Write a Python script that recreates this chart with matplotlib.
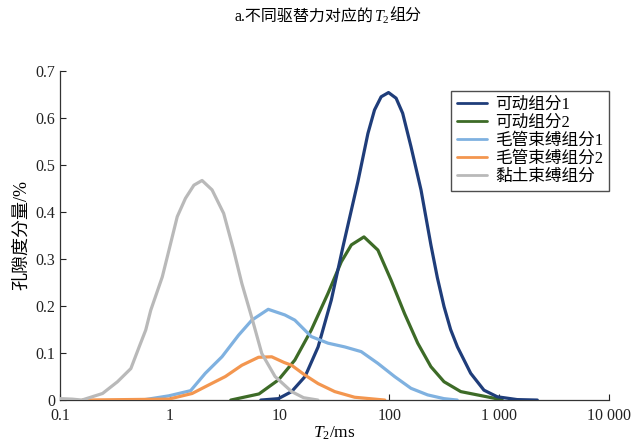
import numpy as np
import matplotlib
matplotlib.use("Agg")
import matplotlib.pyplot as plt

plt.rcParams['font.family'] = ['Liberation Serif', 'Noto Sans CJK SC']
plt.rcParams['mathtext.fontset'] = 'custom'
plt.rcParams['mathtext.rm'] = 'Liberation Serif'
plt.rcParams['mathtext.it'] = 'Liberation Serif:italic'

# T2 (ms) sample points and porosity component (%)
t_mov1 = [6.76, 9.77, 12.9, 17.1, 22.5, 29.7, 37.9, 51.9, 64.0, 73.5, 84.5, 98.6, 115.6, 132.7, 158, 195, 240, 275, 316, 363, 419, 553, 731, 966, 1466, 2239]
v_mov1 = [0.0, 0.003, 0.018, 0.05, 0.113, 0.213, 0.326, 0.465, 0.567, 0.617, 0.645, 0.654, 0.642, 0.61, 0.539, 0.447, 0.33, 0.26, 0.199, 0.15, 0.113, 0.057, 0.021, 0.007, 0.001, 0.0]

t_mov2 = [3.6, 6.5, 9.8, 13.8, 19.5, 27.7, 36.6, 45.2, 58.9, 78.9, 104, 138, 182, 240, 316, 449, 635, 902, 1072]
v_mov2 = [0.0, 0.013, 0.043, 0.085, 0.149, 0.227, 0.294, 0.33, 0.347, 0.319, 0.255, 0.184, 0.121, 0.071, 0.039, 0.018, 0.011, 0.004, 0.0]

t_cap1 = [0.56, 0.98, 1.55, 2.11, 2.99, 4.24, 5.6, 7.9, 11.2, 13.8, 19.5, 27.7, 39.4, 55.6, 78.9, 112, 158, 224, 316, 417]
v_cap1 = [0.0, 0.009, 0.02, 0.057, 0.092, 0.138, 0.17, 0.193, 0.181, 0.17, 0.135, 0.121, 0.113, 0.103, 0.078, 0.05, 0.025, 0.011, 0.003, 0.0]

t_cap2 = [0.16, 0.98, 1.6, 2.26, 3.21, 4.54, 6.44, 8.5, 11.0, 12.9, 17.1, 22.5, 31.9, 48.4, 91.2]
v_cap2 = [0.0, 0.002, 0.014, 0.032, 0.05, 0.074, 0.091, 0.092, 0.08, 0.074, 0.053, 0.035, 0.018, 0.006, 0.0]

t_clay = [0.1, 0.129, 0.158, 0.244, 0.334, 0.442, 0.526, 0.604, 0.671, 0.855, 0.984, 1.17, 1.39, 1.66, 1.97, 2.43, 3.10, 3.82, 4.54, 5.60, 6.90, 9.12, 12.9, 16.6, 22.4]
v_clay = [0.003, 0.002, 0.0, 0.014, 0.039, 0.067, 0.113, 0.149, 0.191, 0.262, 0.319, 0.39, 0.429, 0.457, 0.467, 0.447, 0.397, 0.319, 0.248, 0.175, 0.099, 0.05, 0.018, 0.005, 0.0]

labels = ['可动组分1', '可动组分2', '毛管束缚组分1', '毛管束缚组分2', '黏土束缚组分']
colors = ['#1f3d7a', '#3d6b27', '#7fb1e0', '#f3964f', '#b9b9b9']
xticks = [0.1, 1, 10, 100, 1000, 10000]
xticklabels = ['0.1', '1', '10', '100', '1 000', '10 000']
yticks = [0, 0.1, 0.2, 0.3, 0.4, 0.5, 0.6, 0.7]
yticklabels = ['0', '0.1', '0.2', '0.3', '0.4', '0.5', '0.6', '0.7']

fig = plt.figure(figsize=(6.32, 4.46), dpi=100)
ax = fig.add_axes([0.095, 0.103, 0.868, 0.738])

series = [(t_mov1, v_mov1), (t_mov2, v_mov2), (t_cap1, v_cap1), (t_cap2, v_cap2), (t_clay, v_clay)]
zorders = [3, 2, 4, 5, 6]
for (t, v), lab, c, z in zip(series, labels, colors, zorders):
    ax.plot(t, v, color=c, lw=2.3, label=lab, zorder=z, solid_capstyle='round', solid_joinstyle='round')

ax.set_xscale('log')
ax.set_xlim(0.1, 10000)
ax.set_ylim(0, 0.7)
ax.set_xticks(xticks)
ax.set_xticklabels(xticklabels)
ax.xaxis.set_minor_locator(matplotlib.ticker.NullLocator())
ax.set_yticks(yticks)
ax.set_yticklabels(yticklabels)
ax.tick_params(direction='in', length=4, width=0.8, labelsize=11.5, colors='#222222')
ax.tick_params(axis='x', pad=6)
for s in ['top', 'right']:
    ax.spines[s].set_visible(False)
for s in ['left', 'bottom']:
    ax.spines[s].set_color('#333333')
    ax.spines[s].set_linewidth(0.9)

ax.set_xlabel('$T_2$/ms', fontsize=12.5, labelpad=0)
ax.set_ylabel('孔隙度分量/%', fontsize=13, labelpad=4)

# title in pieces so the CJK text and the italic T2 both render
renderer = fig.canvas.get_renderer()
parts = ['a.不同驱替力对应的', '$T_2$', '组分']
texts = [fig.text(0, 0.962, p, ha='left', va='center', fontsize=11.5) for p in parts]
widths = [t.get_window_extent(renderer).width for t in texts]
x = 328 - sum(widths) / 2
for t, w in zip(texts, widths):
    t.set_x(x / 632)
    x += w

leg = ax.legend(loc='upper right', bbox_to_anchor=(0.964, 0.795), bbox_transform=fig.transFigure,
                fontsize=12, frameon=True, fancybox=False, handlelength=1.8, handletextpad=0.5,
                labelspacing=0.12, borderpad=0.35, borderaxespad=0)
leg.get_frame().set_edgecolor('#222222')
leg.get_frame().set_linewidth(1.0)
for line in leg.get_lines():
    line.set_linewidth(2.0)

fig.savefig('out.png', dpi=100)
